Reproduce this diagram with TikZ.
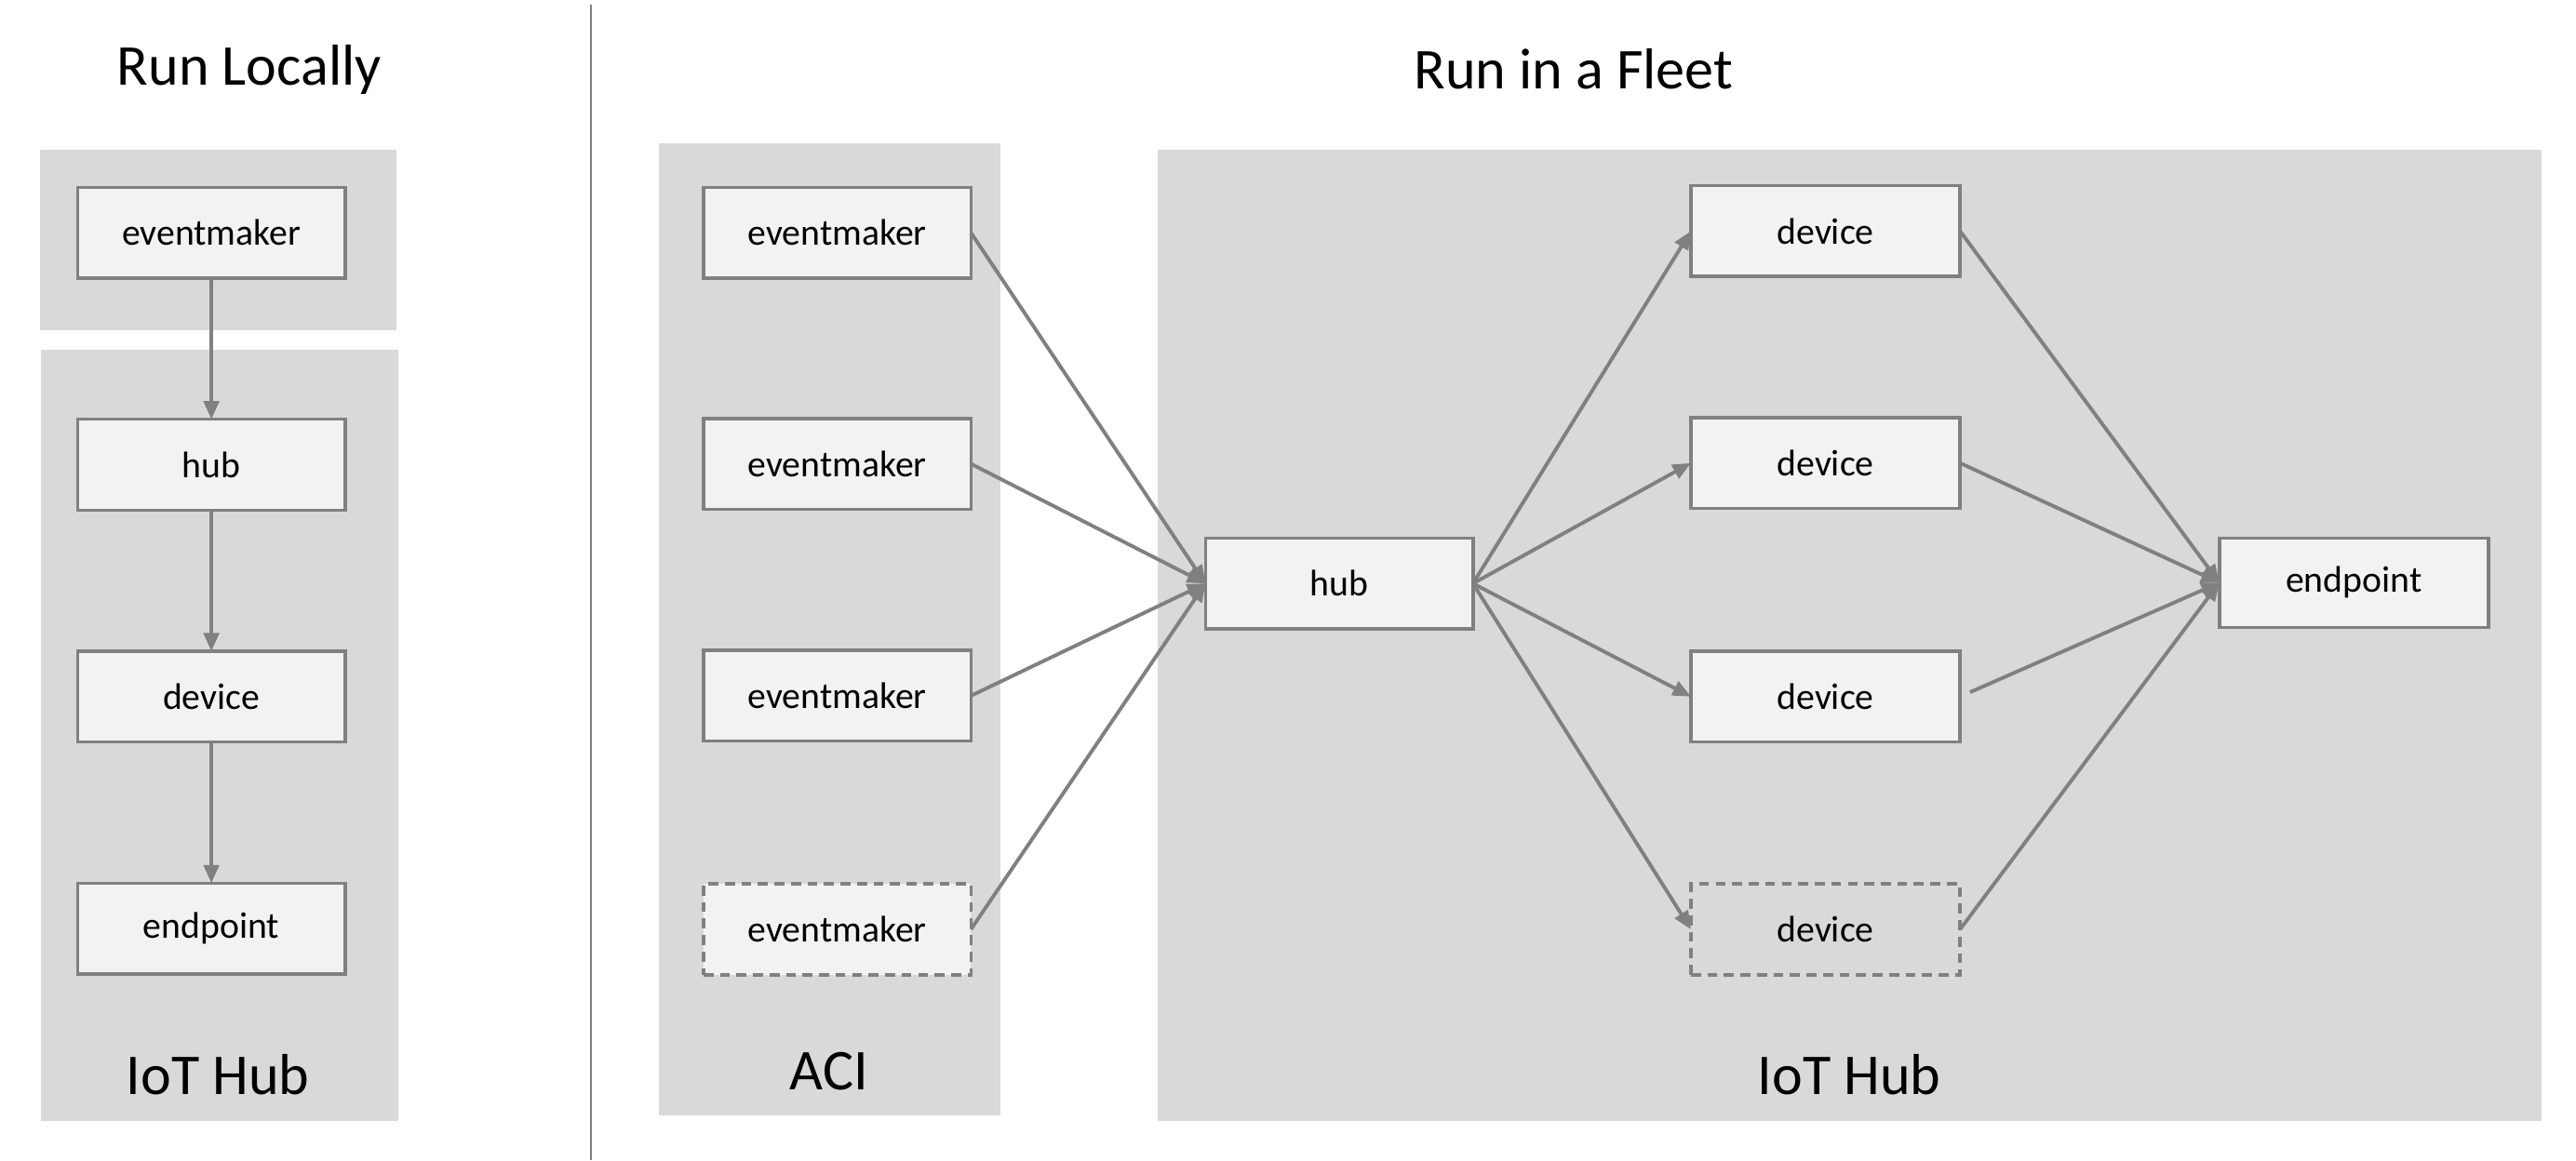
\documentclass[tikz,border=0pt]{standalone}
\usepackage{fontspec}
\setmainfont{Carlito}
\usetikzlibrary{arrows.meta}
\definecolor{panelgray}{HTML}{D9D9D9}
\definecolor{boxfill}{HTML}{F2F2F2}
\definecolor{edgegray}{HTML}{808080}
\tikzset{
  panel/.style={fill=panelgray, draw=none},
  box/.style={draw=edgegray, fill=boxfill, line width=1pt, minimum width=81pt, minimum height=27.5pt, inner sep=0pt, outer sep=0pt, font=\fontsize{11.2}{13}\selectfont},
  dbox/.style={box, dash pattern=on 3pt off 2pt},
  conn/.style={draw=edgegray, line width=1.1pt, -{Triangle[length=5.5pt,width=4.6pt]}},
  title/.style={font=\fontsize{17.5}{21}\selectfont, inner sep=0pt},
}
\begin{document}
\begin{tikzpicture}[x=0.5pt,y=-0.5pt]
\useasboundingbox (0,0) rectangle (1560,703.3);
% separator
\draw[edgegray, line width=0.6pt] (358,3) -- (358,703);
% titles
\node[title] (tl) at (151,42) {Run Locally};
\node[title] (tf) at (953,42) {Run in a Fleet};
% panels
\fill[panel] (24,91) rectangle (240,200);
\fill[panel] (25,212) rectangle (241,679);
\fill[panel] (399,87) rectangle (606,676);
\fill[panel] (701,91) rectangle (1539,679);
% panel labels
\node[title] (lhub) at (132,651) {IoT Hub};
\node[title] (laci) at (502,649) {ACI};
\node[title] (rhub) at (1120,651) {IoT Hub};
% left column
\node[box] (lem) at (128,141) {eventmaker};
\node[box] (lhb) at (128,281.5) {hub};
\node[box] (ldv) at (128,422) {device};
\node[box] (lep) at (128,562.5) {endpoint};
\draw[conn] (lem) -- (lhb);
\draw[conn] (lhb) -- (ldv);
\draw[conn] (ldv) -- (lep);
% fleet: eventmakers
\node[box] (em1) at (507,141) {eventmaker};
\node[box] (em2) at (507,281) {eventmaker};
\node[box] (em3) at (507,421.5) {eventmaker};
\node[dbox] (em4) at (507,563) {eventmaker};
% hub
\node[box] (hub) at (811,353.5) {hub};
% devices
\node[box, minimum width=81.5pt] (dv1) at (1105.5,140) {device};
\node[box, minimum width=81.5pt] (dv2) at (1105.5,280.5) {device};
\node[box, minimum width=81.5pt] (dv3) at (1105.5,422) {device};
\node[dbox, minimum width=81.5pt, fill=none] (dv4) at (1105.5,563) {device};
% endpoint
\node[box, minimum width=81.5pt, minimum height=27pt] (ep) at (1425.5,353) {endpoint};
% connectors
\foreach \e in {em1,em2,em3,em4} \draw[conn] (\e.east) -- (hub.west);
\foreach \d in {dv1,dv2,dv3,dv4} \draw[conn] (hub.east) -- (\d.west);
\draw[conn] (dv1.east) -- (ep.west);
\draw[conn] (dv2.east) -- (ep.west);
\draw[conn, shorten <=3.3pt] (dv3.east) -- (ep.west);
\draw[conn] (dv4.east) -- (ep.west);
\end{tikzpicture}
\end{document}
